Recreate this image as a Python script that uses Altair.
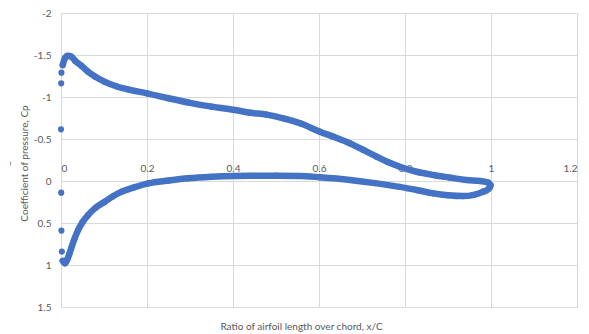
import altair as alt
import pandas as pd

# Upper surface (suction side)
upper_x = [0.0, 0.0005, 0.001, 0.004, 0.009, 0.016, 0.024, 0.033, 0.048, 0.063, 0.08, 0.102,
           0.13, 0.16, 0.2, 0.25, 0.3, 0.35, 0.405, 0.44, 0.478, 0.517, 0.556, 0.602, 0.633,
           0.672, 0.703, 0.734, 0.76, 0.788, 0.827, 0.866, 0.905, 0.943, 0.975, 0.994, 0.999]
upper_cp = [-0.615, -1.163, -1.29, -1.38, -1.46, -1.49, -1.48, -1.43, -1.37, -1.30, -1.24, -1.18,
            -1.125, -1.085, -1.044, -0.985, -0.93, -0.885, -0.845, -0.813, -0.79, -0.746, -0.687,
            -0.587, -0.528, -0.448, -0.37, -0.29, -0.225, -0.17, -0.11, -0.071, -0.04, -0.012,
            0.0, 0.02, 0.05]

# Lower surface (pressure side)
lower_x = [0.0005, 0.001, 0.002, 0.004, 0.0093, 0.015, 0.02, 0.025, 0.032, 0.04, 0.05, 0.063,
           0.08, 0.102, 0.12, 0.141, 0.17, 0.203, 0.25, 0.296, 0.35, 0.405, 0.44, 0.5, 0.556,
           0.602, 0.672, 0.73, 0.788, 0.83, 0.866, 0.9, 0.935, 0.96, 0.982, 0.994, 0.998]
lower_cp = [0.139, 0.59, 0.84, 0.95, 0.98, 0.93, 0.86, 0.78, 0.68, 0.583, 0.49, 0.405,
            0.32, 0.246, 0.185, 0.127, 0.075, 0.028, -0.005, -0.032, -0.05, -0.06, -0.062,
            -0.063, -0.06, -0.044, -0.012, 0.025, 0.07, 0.11, 0.147, 0.17, 0.18, 0.165, 0.127,
            0.095, 0.07]

x_ticks = [0, 0.2, 0.4, 0.6, 0.8, 1, 1.2]
y_ticks = [-2, -1.5, -1, -0.5, 0, 0.5, 1, 1.5]

UPPER_DENSE_START = 3
LOWER_DENSE_START = 3

pts = pd.DataFrame({"x": upper_x + lower_x, "cp": upper_cp + lower_cp})

line_rows = []
o = 0
for xv, cv in zip(upper_x[UPPER_DENSE_START:], upper_cp[UPPER_DENSE_START:]):
    line_rows.append({"x": xv, "cp": cv, "o": o}); o += 1
for xv, cv in reversed(list(zip(lower_x[LOWER_DENSE_START:], lower_cp[LOWER_DENSE_START:]))):
    line_rows.append({"x": xv, "cp": cv, "o": o}); o += 1
line_df = pd.DataFrame(line_rows)

BLUE = "#4472C4"
GRID = "#d9d9d9"
TXT = "#595959"
FONT = "Lato"

xscale = alt.Scale(domain=[0, 1.2], nice=False, zero=False)
yscale = alt.Scale(domain=[-2, 1.5], nice=False, reverse=True, zero=False)

top_axis = alt.Axis(orient="top", offset=-168, grid=False, domain=False, ticks=False, tickSize=0,
                    values=x_ticks, labelExpr="'' + datum.value", labelPadding=8,
                    labelFont=FONT, labelFontSize=10, labelColor=TXT, title=None)
bottom_axis = alt.Axis(orient="bottom", grid=True, gridColor=GRID, domain=False, ticks=False,
                       labels=False, values=x_ticks,
                       title="Ratio of airfoil length over chord, x/C", titleFont=FONT,
                       titleFontSize=10, titleFontWeight="normal", titleColor=TXT,
                       titleX=240, titleY=19, titleAlign="center", titleBaseline="middle")
y_axis = alt.Axis(grid=True, gridColor=GRID, domain=False, ticks=False, tickSize=0,
                  values=y_ticks, labelExpr="'' + datum.value", labelPadding=10,
                  labelFont=FONT, labelFontSize=10, labelColor=TXT,
                  title=["\u2013", "Coefficient of pressure, Cp"], titleFont=FONT,
                  titleFontSize=10, titleFontWeight="normal", titleColor=TXT,
                  titleLineHeight=15, titleAngle=-90, titleX=-49, titleY=150,
                  titleAlign="center", titleBaseline="alphabetic")

line = alt.Chart(line_df).mark_line(color=BLUE, strokeWidth=6.5, strokeCap="round",
                                    strokeJoin="round", interpolate="monotone").encode(
    x=alt.X("x:Q", scale=xscale, axis=bottom_axis),
    y=alt.Y("cp:Q", scale=yscale, axis=None),
    order="o:Q",
)

points = alt.Chart(pts).mark_circle(size=38, opacity=1, color=BLUE).encode(
    x=alt.X("x:Q", scale=xscale, axis=top_axis),
    y=alt.Y("cp:Q", scale=yscale, axis=y_axis),
)

chart = alt.layer(line, points).resolve_axis(x="independent", y="independent").properties(
    width=516, height=294,
    autosize=alt.AutoSizeParams(type="none"),
    padding={"left": 61, "top": 13, "right": 12, "bottom": 27},
    background="white",
).configure_view(strokeWidth=0)

chart.save("out.html", embed_options={"renderer": "svg", "actions": False})
